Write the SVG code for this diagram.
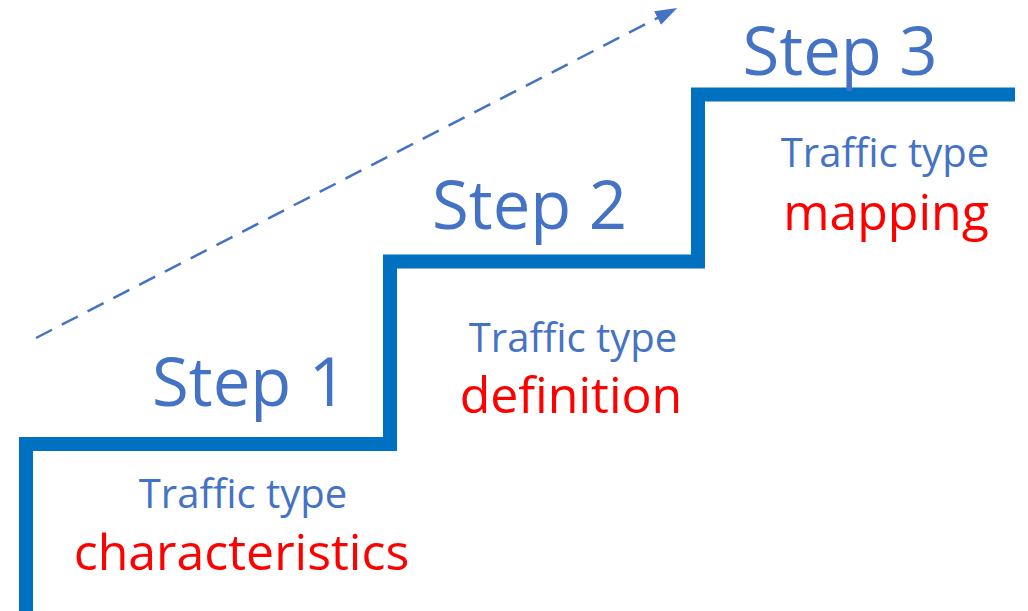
<svg xmlns="http://www.w3.org/2000/svg" width="1028" height="611" viewBox="0 0 1028 611">
<style>
.step{font-family:"Open Sans","Liberation Sans",sans-serif;font-size:67px;fill:#4472C4;text-anchor:middle}
.tt{font-family:"Open Sans","Liberation Sans",sans-serif;font-size:40px;fill:#4472C4;text-anchor:middle}
.red{font-family:"Open Sans","Liberation Sans",sans-serif;font-size:50px;fill:#FF0000;text-anchor:middle}
</style>
<defs>
<marker id="ah" markerUnits="userSpaceOnUse" markerWidth="26" markerHeight="16" refX="10" refY="7.5" orient="auto" viewBox="0 0 26 16">
<path d="M0,0 L22,7.5 L0,15 z" fill="#4472C4"/>
</marker>
</defs>
<rect width="1028" height="611" fill="#ffffff"/>
<g id="connectors">
<path id="stairs" d="M26,611 V444 H390 V261.5 H698 V94.5 H1015" fill="none" stroke="#0070C0" stroke-width="14" stroke-linejoin="miter"/>
<line id="progress-arrow" x1="36" y1="338" x2="666.5" y2="13.4" stroke="#4472C4" stroke-width="2.5" stroke-dasharray="18 11" marker-end="url(#ah)"/>
</g>
<g id="step1">
<text class="step" x="249.5" y="406">Step 1</text>
<text class="tt" x="243" y="508">Traffic type</text>
<text class="red" x="241.5" y="570">characteristics</text>
</g>
<g id="step2">
<text class="step" x="529.5" y="229">Step 2</text>
<text class="tt" x="573" y="352">Traffic type</text>
<text class="red" x="571" y="413">definition</text>
</g>
<g id="step3">
<text class="step" x="840" y="75">Step 3</text>
<text class="tt" x="885" y="167">Traffic type</text>
<text class="red" x="886" y="230">mapping</text>
</g>
</svg>
